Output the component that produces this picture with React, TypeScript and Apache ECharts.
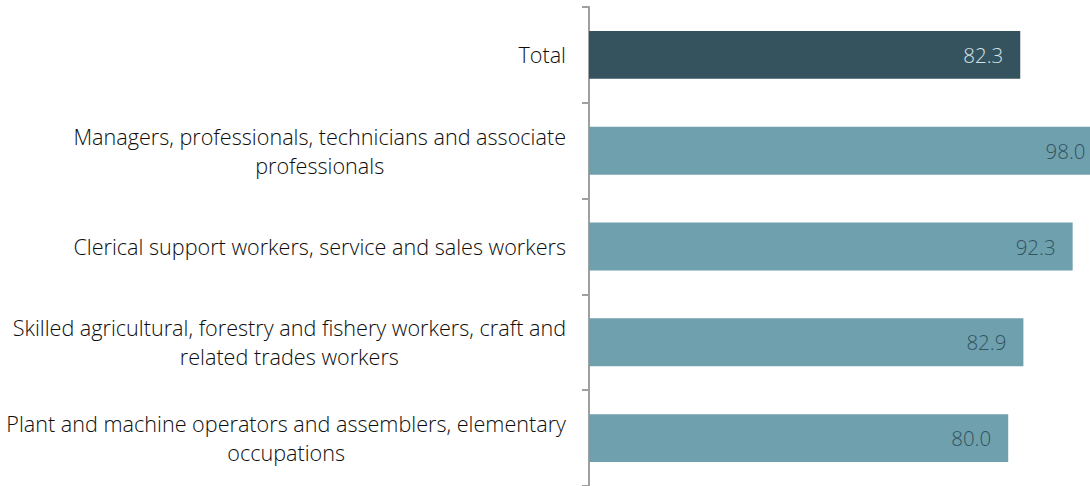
import React, { useEffect, useRef } from "react";
import * as echarts from "echarts";

const categories: string[] = [
  "Total",
  "Managers, professionals, technicians and associate\nprofessionals",
  "Clerical support workers, service and sales workers",
  "Skilled agricultural, forestry and fishery workers, craft and\nrelated trades workers",
  "Plant and machine operators and assemblers, elementary\noccupations",
];
const values: number[] = [82.3, 98.0, 92.3, 82.9, 80.0];
const isTotal: boolean[] = [true, false, false, false, false];

const DARK = "#34535E";
const LIGHT = "#6FA0AE";
const FONT = "'Open Sans', 'Noto Sans', sans-serif";

export default function App() {
  const ref = useRef<HTMLDivElement>(null);
  useEffect(() => {
    if (!ref.current) return;
    const chart = echarts.init(ref.current, undefined, { renderer: "svg" });
    chart.setOption({
      animation: false,
      grid: { left: 589, right: 0, top: 7, height: 480, containLabel: false },
      xAxis: { type: "value", min: 0, max: 100, show: false },
      yAxis: {
        type: "category",
        inverse: true,
        data: categories,
        axisLine: { show: true, lineStyle: { color: "#A0A0A0", width: 2 } },
        axisTick: { show: true, length: 7, lineStyle: { color: "#A0A0A0", width: 2 } },
        axisLabel: {
          margin: 23,
          align: "right",
          formatter: (v: string) =>
            v
              .split("\n")
              .map((l) => `{c|${l}}`)
              .join("\n"),
          rich: {
            c: {
              align: "center",
              fontSize: 21.6,
              fontWeight: 300,
              fontFamily: FONT,
              color: "#0d0d0d",
              lineHeight: 29,
            },
          },
        },
      },
      series: [
        {
          type: "bar",
          barWidth: "50%",
          data: values.map((v, i) => ({
            value: v,
            itemStyle: { color: isTotal[i] ? DARK : LIGHT },
            label: { color: isTotal[i] ? "#D5E2E6" : "#34535E" },
          })),
          label: {
            show: true,
            position: "insideRight",
            distance: 17,
            fontSize: 20.5,
            fontWeight: 300,
            fontFamily: FONT,
            formatter: (p: any) => Number(p.value).toFixed(1),
          },
        },
      ],
    });
    return () => chart.dispose();
  }, []);
  return (
    <div
      style={{
        position: "absolute",
        left: 0,
        top: 0,
        width: 1090,
        height: 486,
        overflow: "hidden",
        background: "#fff",
      }}
    >
      <div ref={ref} style={{ width: 1113, height: 486 }} />
    </div>
  );
}
